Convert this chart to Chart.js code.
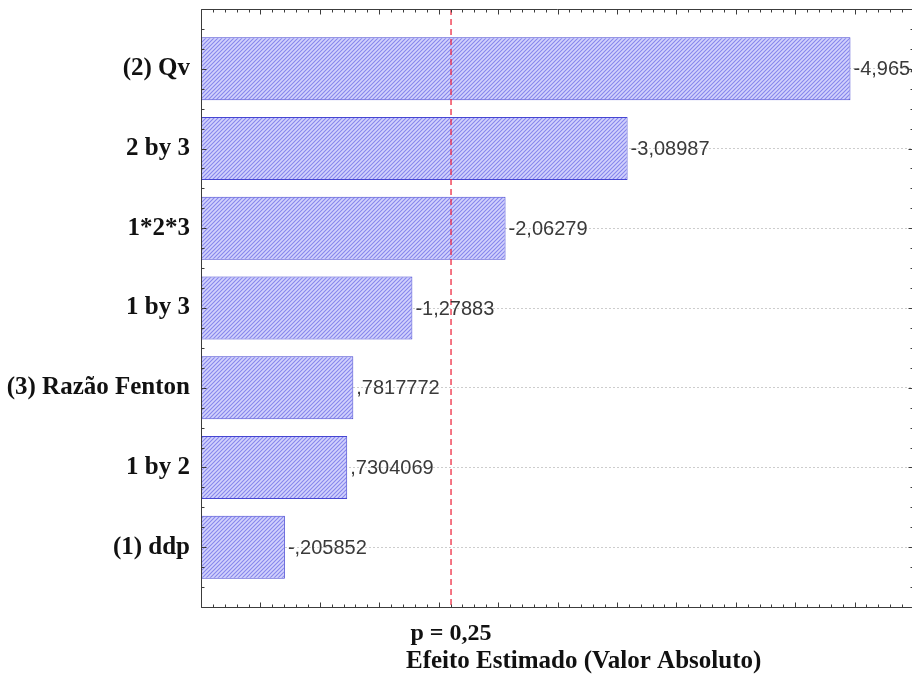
<!DOCTYPE html>
<html lang="pt">
<head>
  <meta charset="UTF-8">
  <title>Pareto - Efeito Estimado</title>
  <script src="https://cdn.jsdelivr.net/npm/chart.js"></script>
  <style>
    html, body { margin: 0; padding: 0; background: #fff; overflow: hidden; }
    canvas { display: block; }
  </style>
</head>
<body>
  <canvas id="pareto" width="914" height="678"></canvas>

  <script>
    // data
    var labels = ['(2) Qv', '2 by 3', '1*2*3', '1 by 3', '(3) Razão Fenton', '1 by 2', '(1) ddp'];
    var effects = [-4.9654, -3.08987, -2.06279, -1.27883, 0.7817772, 0.7304069, -0.205852];
    var pCrit = 1.604;          // p = 0,25 reference line
    var pLabel = 'p = 0,25';
    var X_MIN = -0.5, X_MAX = 5.5;
    var Y_MIN = -0.75, Y_MAX = labels.length - 0.25;

    var serif = "'Liberation Serif', 'Times New Roman', serif";
    var sans = "'Liberation Sans', Arial, sans-serif";

    // blue diagonal hatch
    function hatch() {
      var c = document.createElement('canvas');
      c.width = 4; c.height = 4;
      var g = c.getContext('2d');
      g.fillStyle = '#d2d2fc';
      g.fillRect(0, 0, 4, 4);
      g.strokeStyle = '#8686ec';
      g.lineWidth = 1.1;
      g.beginPath();
      g.moveTo(0, 4); g.lineTo(4, 0);
      g.moveTo(-1, 1); g.lineTo(1, -1);
      g.moveTo(3, 5); g.lineTo(5, 3);
      g.stroke();
      return g.createPattern(c, 'repeat');
    }

    function fmt(v) {
      // statistica style: no leading zero, comma decimal
      return String(v).replace(/^(-?)0\./, '$1.').replace('.', ',');
    }

    var barData = effects.map(function (v, i) { return { x: Math.abs(v), y: i }; });
    var pLineData = [{ x: pCrit, y: Y_MIN }, { x: pCrit, y: Y_MAX }];

    var valueLabels = {
      id: 'valueLabels',
      afterDatasetsDraw: function (chart) {
        var ctx = chart.ctx;
        var meta = chart.getDatasetMeta(1);
        ctx.save();
        ctx.font = '20px ' + sans;
        ctx.fillStyle = '#3a3a3a';
        ctx.textBaseline = 'middle';
        meta.data.forEach(function (bar, i) {
          ctx.fillText(fmt(effects[i]), bar.x + 3, bar.y + 1);
        });
        ctx.restore();
      }
    };

    // frame with inward ticks on all four sides
    var frame = {
      id: 'frame',
      afterDraw: function (chart) {
        var ctx = chart.ctx, a = chart.chartArea;
        var xs = chart.scales.x, ys = chart.scales.y;
        var L = Math.round(a.left) + 0.5, R = Math.round(a.right) - 0.5;
        var T = Math.round(a.top) + 0.5, B = Math.round(a.bottom) + 0.5;
        ctx.save();
        ctx.strokeStyle = '#3c3c3c';
        ctx.lineWidth = 1;
        ctx.beginPath();
        ctx.rect(L, T, R - L, B - T);
        ctx.stroke();
        ctx.beginPath();
        var k, v, px, len;
        for (k = 0; k <= 60; k++) {
          v = X_MIN + k * 0.1;
          px = Math.round(xs.getPixelForValue(v)) + 0.5;
          len = (k % 5 === 0) ? 5 : 3;
          ctx.moveTo(px, B); ctx.lineTo(px, B - len);
          ctx.moveTo(px, T); ctx.lineTo(px, T + len);
        }
        for (k = 0; k <= 30; k++) {
          v = Y_MIN + k * 0.25;
          px = Math.round(ys.getPixelForValue(v)) + 0.5;
          len = (k % 4 === 3) ? 5 : 3;
          ctx.moveTo(L, px); ctx.lineTo(L + len, px);
          ctx.moveTo(R, px); ctx.lineTo(R - len, px);
        }
        ctx.stroke();

        // axis title (sits right of the axis centre in the original)
        ctx.font = 'bold 25px ' + serif;
        ctx.fillStyle = '#111';
        ctx.textAlign = 'center';
        ctx.textBaseline = 'middle';
        ctx.fillText('Efeito Estimado (Valor Absoluto)', xs.getPixelForValue(2.72), 662);
        ctx.restore();
      }
    };

    var ctxP = document.getElementById('pareto').getContext('2d');
    var paretoChart = new Chart(ctxP, {
      type: 'bar',
      data: {
        datasets: [{
          // p = 0,25 line, drawn over the bars
          type: 'line',
          data: pLineData,
          borderColor: '#ee1c34',
          borderWidth: 1.2,
          borderDash: [6, 4],
          pointRadius: 0,
          fill: false,
          order: 0
        }, {
          data: barData,
          base: X_MIN,
          backgroundColor: hatch(),
          borderColor: '#4646d2',
          borderWidth: 1,
          barPercentage: 1,
          categoryPercentage: 0.79,
          order: 1
        }]
      },
      options: {
        indexAxis: 'y',
        responsive: false,
        devicePixelRatio: 1,
        animation: false,
        layout: { padding: { top: 9, right: 0, bottom: 0, left: 0 } },
        plugins: {
          legend: { display: false },
          tooltip: { enabled: false }
        },
        scales: {
          x: {
            type: 'linear',
            min: X_MIN,
            max: X_MAX,
            grid: { display: false },
            border: { display: false },
            afterBuildTicks: function (scale) { scale.ticks = [{ value: pCrit }]; },
            afterFit: function (scale) { scale.height = 71; },
            ticks: {
              padding: 4,
              color: '#111',
              font: { family: serif, size: 24, weight: 'bold' },
              callback: function () { return pLabel; }
            }
          },
          y: {
            type: 'linear',
            offset: false,
            min: Y_MIN,
            max: Y_MAX,
            reverse: true,
            grid: { color: '#cdcdcd', drawTicks: false, offset: false },
            border: { display: false, dash: [2, 2] },
            afterBuildTicks: function (scale) {
              scale.ticks = labels.map(function (_, i) { return { value: i }; });
            },
            afterFit: function (scale) {
              scale.width = 201;
              scale.paddingTop = 0;
              scale.paddingBottom = 0;
            },
            ticks: {
              padding: 11,
              color: '#111',
              font: { family: serif, size: 25, weight: 'bold' },
              callback: function (value) { return labels[value]; }
            }
          }
        }
      },
      plugins: [valueLabels, frame]
    });
  </script>
</body>
</html>
